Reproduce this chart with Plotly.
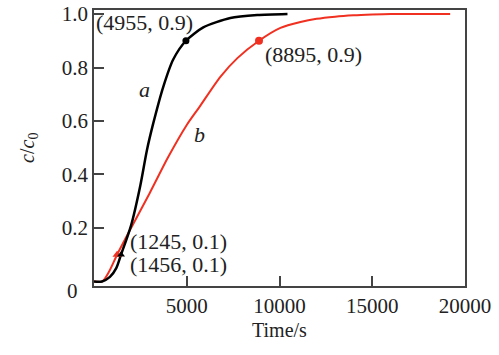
import plotly.graph_objects as go

# Curve a (black)
t_a = [0, 430, 860, 1200, 1456, 2000, 2500, 2850, 3190, 3730, 4270, 4955, 5890, 7350, 8800, 10430]
c_a = [0, 0, 0.017, 0.05, 0.1, 0.21, 0.36, 0.49, 0.59, 0.727, 0.83, 0.9, 0.95, 0.985, 0.996, 1.0]

# Curve b (red)
t_b = [0, 450, 800, 1245, 2000, 3000, 4000, 5000, 5680, 6810, 7730, 8895, 10050, 11130, 12000, 13000, 14000, 15000, 16000, 17000, 18000, 19200]
c_b = [0, 0, 0.035, 0.1, 0.2, 0.33, 0.465, 0.585, 0.652, 0.765, 0.835, 0.9, 0.948, 0.97, 0.982, 0.99, 0.995, 0.998, 1.0, 1.0, 1.0, 1.0]

# Marked points
pts_a_x = [1456, 4955]
pts_a_y = [0.1, 0.9]
pts_b_x = [1245, 8895]
pts_b_y = [0.1, 0.9]

x_ticks = [5000, 10000, 15000, 20000]
y_ticks = [0.2, 0.4, 0.6, 0.8, 1.0]
y_labels = ["0.2", "0.4", "0.6", "0.8", "1.0"]

FONT = "Liberation Serif"
RED = "#f03020"
TXT = "#222"

fig = go.Figure()
fig.add_trace(go.Scatter(x=t_b, y=c_b, mode="lines",
                         line=dict(color=RED, width=2, shape="spline", smoothing=0.7), showlegend=False))
fig.add_trace(go.Scatter(x=t_a, y=c_a, mode="lines",
                         line=dict(color="black", width=2.5, shape="spline", smoothing=0.7), showlegend=False))
fig.add_trace(go.Scatter(x=pts_b_x, y=pts_b_y, mode="markers",
                         marker=dict(color=RED, size=8, symbol=["triangle-up", "circle"]), showlegend=False))
fig.add_trace(go.Scatter(x=pts_a_x, y=pts_a_y, mode="markers",
                         marker=dict(color="black", size=7, symbol=["triangle-up", "circle"]), showlegend=False))

ann_font = dict(family=FONT, size=22, color=TXT)
anns = [
    (pts_a_x[1], pts_a_y[1], "(4955, 0.9)", -92, 18),
    (pts_b_x[1], pts_b_y[1], "(8895, 0.9)", 4, -14),
    (pts_b_x[0], pts_b_y[0], "(1245, 0.1)", 11, 13),
    (pts_a_x[0], pts_a_y[0], "(1456, 0.1)", 7, -10),
]
for x, y, txt, xs, ys in anns:
    fig.add_annotation(x=x, y=y, text=txt, showarrow=False, xanchor="left", yanchor="middle",
                       xshift=xs, yshift=ys, font=ann_font)
fig.add_annotation(x=2700, y=0.716, text="<i>a</i>", showarrow=False, font=dict(family=FONT, size=22, color=TXT))
fig.add_annotation(x=5680, y=0.548, text="<i>b</i>", showarrow=False, font=dict(family=FONT, size=22, color=TXT))

# y = 0 tick label (sits slightly below the zero level in the original)
fig.add_annotation(x=0, y=0, text="0", showarrow=False, xanchor="right", yanchor="middle",
                   xshift=-14, yshift=-10, font=dict(family=FONT, size=21, color=TXT))

# Axis titles
fig.add_annotation(xref="paper", yref="paper", x=-0.178, y=0.5, text="<i>c</i>/<i>c</i><sub>0</sub>",
                   textangle=-90, showarrow=False, xanchor="center", yanchor="middle",
                   font=dict(family=FONT, size=20, color=TXT))
fig.add_annotation(xref="paper", yref="paper", x=0.5, y=-0.159, text="Time/s",
                   showarrow=False, xanchor="center", yanchor="middle",
                   font=dict(family=FONT, size=20, color=TXT))

axis_common = dict(showgrid=False, zeroline=False, showline=True, linecolor="#444", linewidth=1.5,
                   mirror=True, ticks="inside", ticklen=10, tickcolor="#444", tickwidth=1.5,
                   automargin=False, tickfont=dict(family=FONT, size=21, color=TXT))

fig.update_xaxes(range=[0, 20000], tickvals=x_ticks, ticktext=[str(v) for v in x_ticks], **axis_common)
fig.update_yaxes(range=[-0.017, 1.015], tickvals=y_ticks, ticktext=y_labels,
                 ticksuffix="\u00a0", **axis_common)

fig.update_layout(width=499, height=355, margin=dict(l=94, r=34, t=10, b=69),
                  plot_bgcolor="white", paper_bgcolor="white")

fig.write_html("out.html", config={"displayModeBar": False},
               post_script="document.body.style.margin='0';document.body.style.overflow='hidden';")
